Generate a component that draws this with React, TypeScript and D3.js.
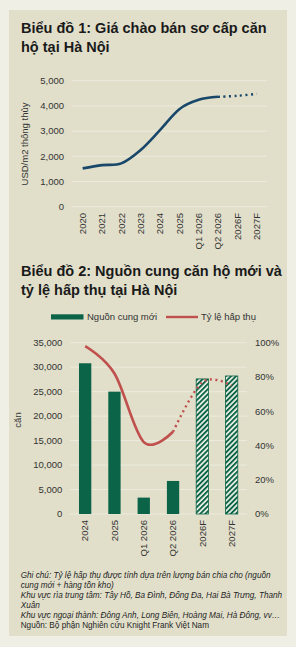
import React, { useEffect, useRef } from "react";
import * as d3 from "d3";

// chart 1 - gia chao ban so cap
const priceLabels = ["2020", "2021", "2022", "2023", "2024", "2025", "Q1 2026", "Q2 2026", "2026F", "2027F"];
const priceValues = [1520, 1650, 1720, 2250, 3040, 3870, 4240, 4360, 4400, 4480];
const priceTicks = [0, 1000, 2000, 3000, 4000, 5000];
const priceForecastFrom = 7; // dotted from Q2 2026

// chart 2 - nguon cung & ty le hap thu
const supplyLabels = ["2024", "2025", "Q1 2026", "Q2 2026", "2026F", "2027F"];
const supplyValues = [30800, 25000, 3350, 6750, 27600, 28200];
const absorptionRate = [0.98, 0.82, 0.42, 0.48, 0.77, 0.75];
const supplyTicks = [0, 5000, 10000, 15000, 20000, 25000, 30000, 35000];
const rateTicks = [0, 0.2, 0.4, 0.6, 0.8, 1];
const supplyForecastFrom = 4;

const titles1 = ["Biểu đồ 1: Giá chào bán sơ cấp căn", "hộ tại Hà Nội"];
const titles2 = ["Biểu đồ 2: Nguồn cung căn hộ mới và", "tỷ lệ hấp thụ tại Hà Nội"];
const notes = [
  "Ghi chú: Tỷ lệ hấp thụ được tính dựa trên lượng bán chia cho (nguồn",
  "cung mới + hàng tồn kho)",
  "Khu vực rìa trung tâm: Tây Hồ, Ba Đình, Đống Đa, Hai Bà Trưng, Thanh",
  "Xuân",
  "Khu vực ngoại thành: Đông Anh, Long Biên, Hoàng Mai, Hà Đông, vv…",
];
const source = "Nguồn: Bộ phận Nghiên cứu Knight Frank Việt Nam";

const W = 296;
const H = 647;
const FONT = "'Liberation Sans', Arial, sans-serif";
const TXT = "#333333";
const GRID = "#ecebdd";
const GREEN = "#0b6448";
const RED = "#c0504d";
const NAVY = "#18476a";

export default function App() {
  const ref = useRef<SVGSVGElement>(null);

  useEffect(() => {
    const svg = d3.select(ref.current);
    svg.selectAll("*").remove();

    svg.append("rect").attr("width", W).attr("height", H).attr("fill", "#f0efe5");
    svg.append("rect").attr("x", 9).attr("y", 10).attr("width", 278).attr("height", 626).attr("fill", "#e1dfca");

    const defs = svg.append("defs");
    const pat = defs.append("pattern")
      .attr("id", "hatch")
      .attr("patternUnits", "userSpaceOnUse")
      .attr("width", 3.6)
      .attr("height", 3.6)
      .attr("patternTransform", "rotate(45)");
    pat.append("rect").attr("width", 3.6).attr("height", 3.6).attr("fill", "#eef1e6");
    pat.append("rect").attr("width", 1.9).attr("height", 3.6).attr("fill", GREEN);

    const title = (lines: string[], y0: number) => {
      lines.forEach((t, i) => {
        svg.append("text")
          .attr("x", 21)
          .attr("y", y0 + i * 19)
          .attr("font-family", FONT)
          .attr("font-weight", "bold")
          .attr("font-size", 14.5)
          .attr("fill", "#1a1a1a")
          .text(t);
      });
    };

    // ---------- chart 1 ----------
    title(titles1, 33.3);

    const x1 = d3.scaleBand<string>().domain(priceLabels).range([73, 266.3]);
    const y1 = d3.scaleLinear().domain([0, 5000]).range([206.7, 80.7]);

    const g1 = svg.append("g").attr("font-family", FONT).attr("font-size", 9.5).attr("fill", TXT);

    g1.selectAll("line.grid")
      .data(priceTicks)
      .enter()
      .append("line")
      .attr("x1", 72)
      .attr("x2", 267)
      .attr("y1", d => y1(d))
      .attr("y2", d => y1(d))
      .attr("stroke", GRID)
      .attr("stroke-width", 1);

    g1.selectAll("text.ytick")
      .data(priceTicks)
      .enter()
      .append("text")
      .attr("x", 64)
      .attr("y", d => y1(d))
      .attr("dy", "0.35em")
      .attr("text-anchor", "end")
      .text(d => d3.format(",")(d));

    g1.selectAll("text.xtick")
      .data(priceLabels)
      .enter()
      .append("text")
      .attr("transform", d => `translate(${x1(d)! + x1.bandwidth() / 2},213) rotate(-90)`)
      .attr("dy", "0.35em")
      .attr("text-anchor", "end")
      .text(d => d);

    g1.append("text")
      .attr("transform", "translate(28,144) rotate(-90)")
      .attr("text-anchor", "middle")
      .text("USD/m2 thông thủy");

    const pts1 = priceValues.map((v, i) => [x1(priceLabels[i])! + x1.bandwidth() / 2, y1(v)] as [number, number]);
    const curve1 = d3.line().curve(d3.curveCardinal.tension(0));
    g1.append("path")
      .attr("d", curve1(pts1.slice(0, priceForecastFrom + 1)))
      .attr("fill", "none")
      .attr("stroke", NAVY)
      .attr("stroke-width", 2.6);
    g1.append("path")
      .attr("d", curve1(pts1.slice(priceForecastFrom)))
      .attr("fill", "none")
      .attr("stroke", NAVY)
      .attr("stroke-width", 2.4)
      .attr("stroke-dasharray", "2 3.5");

    // ---------- chart 2 ----------
    title(titles2, 276);

    const legend = svg.append("g").attr("font-family", FONT).attr("font-size", 9.5).attr("fill", TXT);
    legend.append("rect").attr("x", 51).attr("y", 314.3).attr("width", 32.5).attr("height", 5.2).attr("fill", GREEN);
    legend.append("text").attr("x", 87).attr("y", 317).attr("dy", "0.35em").text("Nguồn cung mới");
    legend.append("line").attr("x1", 166).attr("x2", 198).attr("y1", 317).attr("y2", 317).attr("stroke", RED).attr("stroke-width", 2.4);
    legend.append("text").attr("x", 201).attr("y", 317).attr("dy", "0.35em").text("Tỷ lệ hấp thụ");

    const x2 = d3.scaleBand<string>()
      .domain(supplyLabels)
      .range([70.5, 246.3])
      .paddingInner(0.58)
      .paddingOuter(0.29);
    const y2 = d3.scaleLinear().domain([0, 35000]).range([514, 342.7]);
    const yr = d3.scaleLinear().domain([0, 1]).range([514, 342.7]);

    const g2 = svg.append("g").attr("font-family", FONT).attr("font-size", 9.5).attr("fill", TXT);

    g2.selectAll("line.grid")
      .data(supplyTicks)
      .enter()
      .append("line")
      .attr("x1", 70)
      .attr("x2", 247)
      .attr("y1", d => y2(d))
      .attr("y2", d => y2(d))
      .attr("stroke", GRID);

    g2.selectAll("text.yl")
      .data(supplyTicks)
      .enter()
      .append("text")
      .attr("x", 62.3)
      .attr("y", d => y2(d))
      .attr("dy", "0.35em")
      .attr("text-anchor", "end")
      .text(d => d3.format(",")(d));

    g2.selectAll("text.yr")
      .data(rateTicks)
      .enter()
      .append("text")
      .attr("x", 255)
      .attr("y", d => yr(d))
      .attr("dy", "0.35em")
      .text(d => d3.format(".0%")(d));

    g2.append("text")
      .attr("transform", "translate(21,420) rotate(-90)")
      .attr("text-anchor", "middle")
      .text("căn");

    g2.selectAll("rect.bar")
      .data(supplyValues)
      .enter()
      .append("rect")
      .attr("x", (d, i) => x2(supplyLabels[i])!)
      .attr("y", d => y2(d))
      .attr("width", x2.bandwidth())
      .attr("height", d => y2(0) - y2(d))
      .attr("fill", (d, i) => (i >= supplyForecastFrom ? "url(#hatch)" : GREEN))
      .attr("stroke", (d, i) => (i >= supplyForecastFrom ? GREEN : "none"))
      .attr("stroke-width", 0.8);

    g2.selectAll("text.xl")
      .data(supplyLabels)
      .enter()
      .append("text")
      .attr("transform", d => `translate(${x2(d)! + x2.bandwidth() / 2},520) rotate(-90)`)
      .attr("dy", "0.35em")
      .attr("text-anchor", "end")
      .text(d => d);

    const pts2 = absorptionRate.map((v, i) => [x2(supplyLabels[i])! + x2.bandwidth() / 2, yr(v)] as [number, number]);
    const curve2 = d3.line().curve(d3.curveCardinal.tension(0));
    g2.append("path")
      .attr("d", curve2(pts2.slice(0, supplyForecastFrom)))
      .attr("fill", "none")
      .attr("stroke", RED)
      .attr("stroke-width", 2.6);
    g2.append("path")
      .attr("d", curve2(pts2.slice(supplyForecastFrom - 1)))
      .attr("fill", "none")
      .attr("stroke", RED)
      .attr("stroke-width", 2.4)
      .attr("stroke-dasharray", "2 3.5");

    // ---------- notes ----------
    const gn = svg.append("g").attr("font-family", FONT).attr("font-size", 8.2).attr("fill", "#262626");
    notes.forEach((t, i) => {
      gn.append("text").attr("x", 20.7).attr("y", 577.5 + i * 10).attr("font-style", "italic").text(t);
    });
    gn.append("text").attr("x", 20.7).attr("y", 577.5 + notes.length * 10).text(source);
  }, []);

  return <svg ref={ref} width={W} height={H} style={{ position: "absolute", left: 0, top: 0 }} />;
}
